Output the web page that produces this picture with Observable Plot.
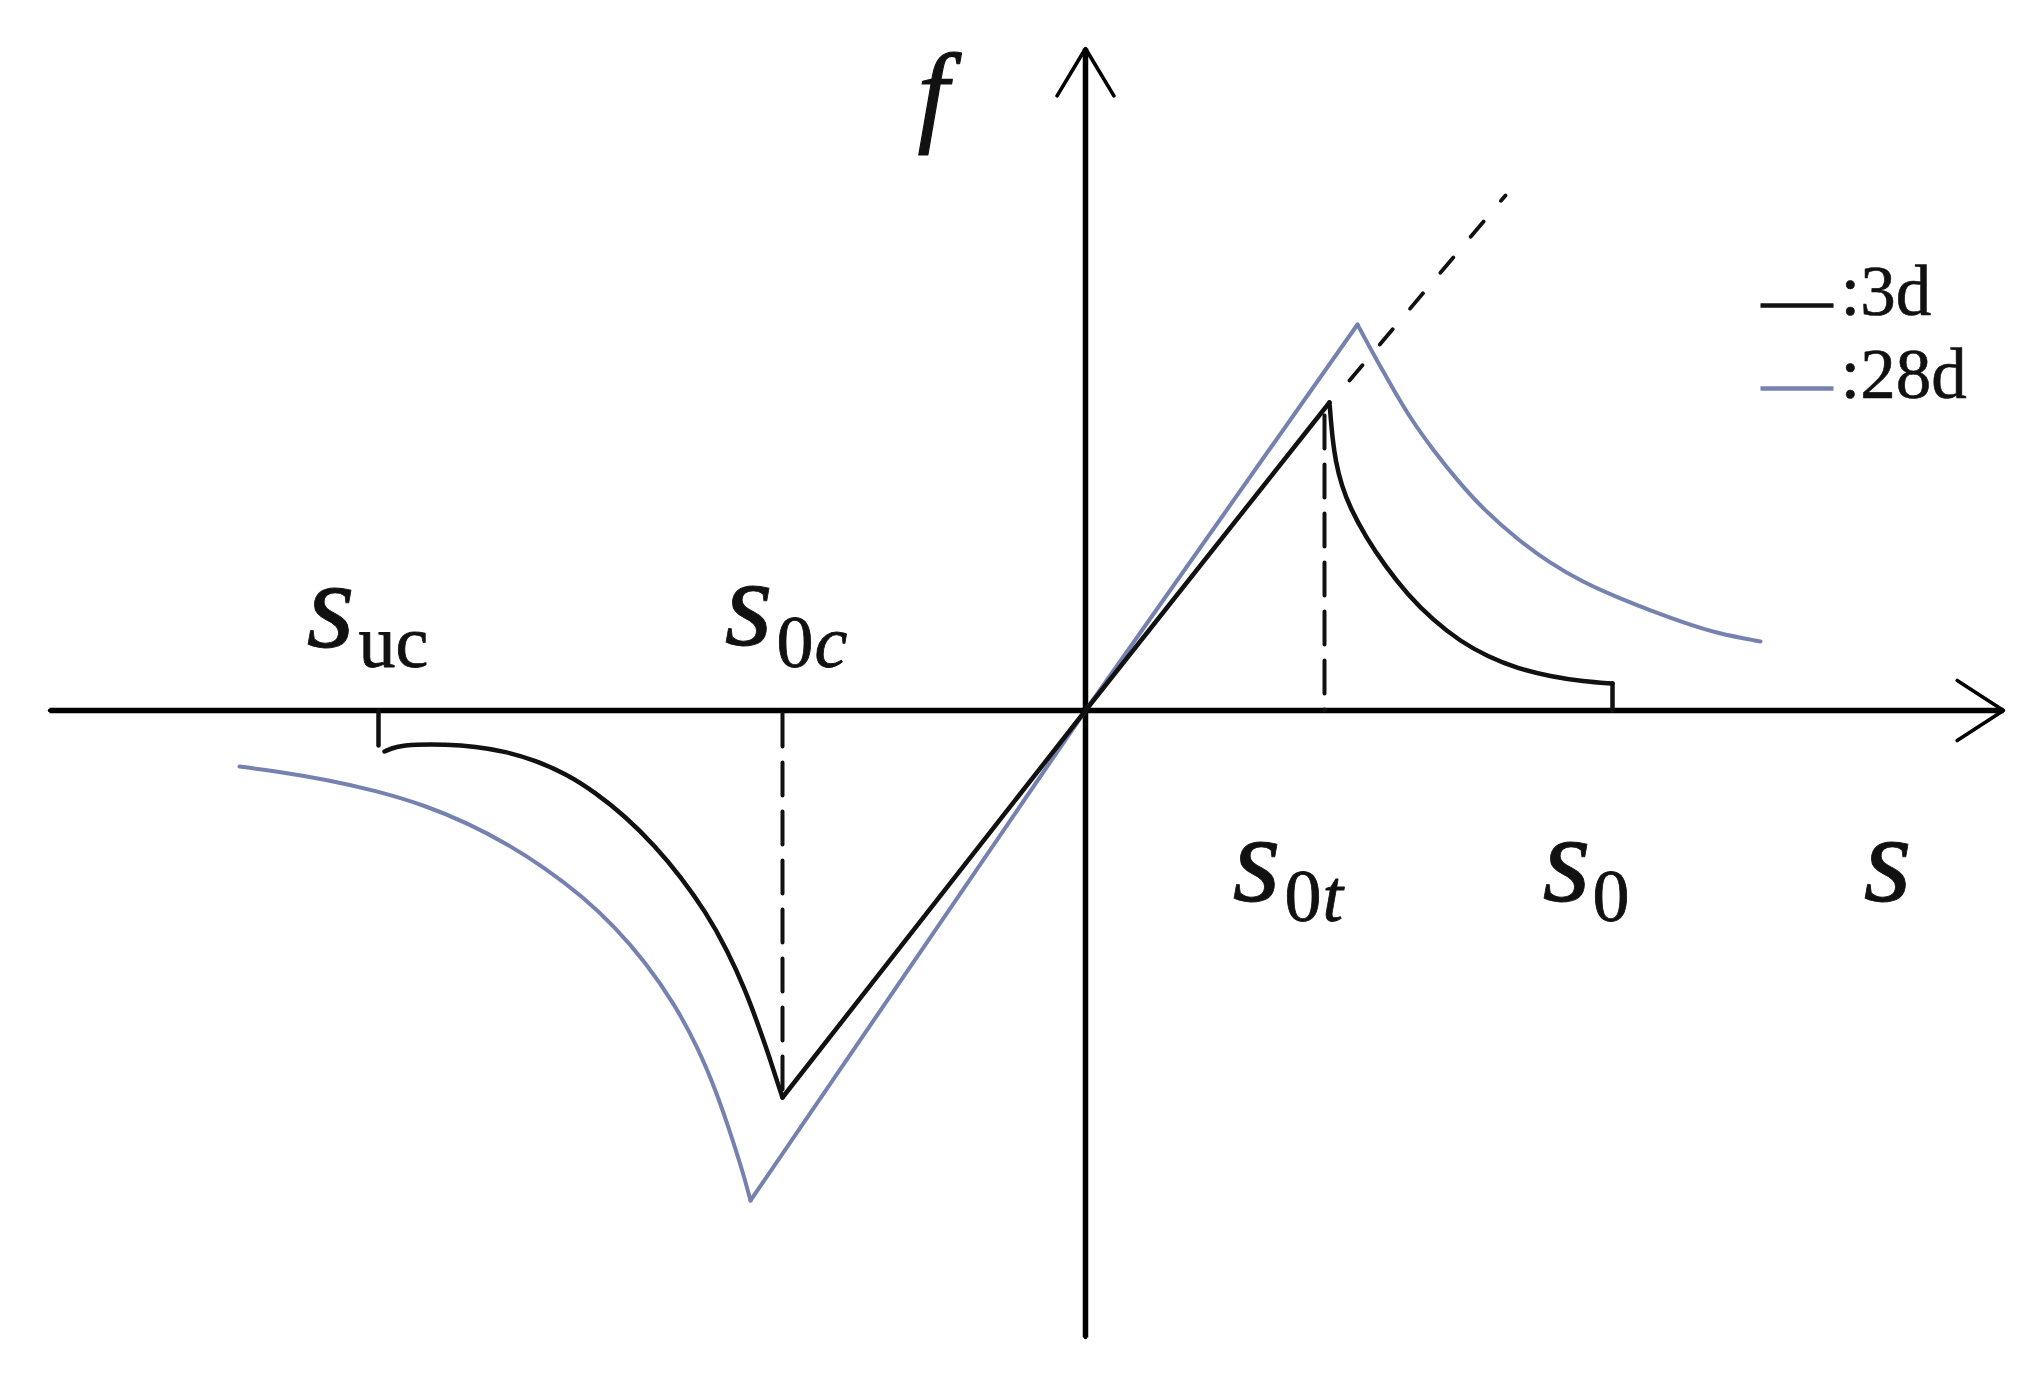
<!DOCTYPE html>
<html><head><meta charset="utf-8">
<script src="https://cdn.jsdelivr.net/npm/d3@7"></script>
<script src="https://cdn.jsdelivr.net/npm/@observablehq/plot@0.6"></script>
<style>html,body{margin:0;padding:0;background:#fff;overflow:hidden}</style>
</head><body><div id="chart"></div>
<script>
// ---- key strains where the curves meet the axis ----
const s_uc = -7.07, s_0c = -3.03, s_0t = 2.39, s_0 = 5.27;

// ---- 3d curve (black) ----
const d3dCompTick = [[s_uc, 0], [s_uc, -0.35]];
const d3dCompSoft = [[-7.01,-0.41],[-6.90,-0.36],[-6.70,-0.34],[-6.40,-0.34],[-6.10,-0.36],[-5.80,-0.41],[-5.50,-0.50],[-5.20,-0.63],[-4.90,-0.82],[-4.60,-1.06],[-4.30,-1.36],[-4.05,-1.66],[-3.80,-2.01],[-3.58,-2.40],[-3.40,-2.80],[-3.26,-3.18],[-3.15,-3.50],[-3.08,-3.72],[-3.03,-3.87]];
const d3dLinear = [[-3.03,-3.87],[0,0],[2.44,3.08]];
const d3dTensSoft = [[2.44,3.08],[2.45,2.95],[2.47,2.72],[2.50,2.50],[2.56,2.25],[2.65,2.02],[2.80,1.74],[3.00,1.44],[3.22,1.16],[3.48,0.90],[3.75,0.69],[4.02,0.54],[4.32,0.42],[4.65,0.34],[4.98,0.29],[5.27,0.27]];
const d3dTensTick = [[s_0, 0.27], [s_0, 0]];

// ---- 28d curve (blue-grey) ----
const d28CompSoft = [[-8.46,-0.56],[-8.08,-0.61],[-7.60,-0.69],[-7.10,-0.80],[-6.60,-0.95],[-6.17,-1.13],[-5.79,-1.33],[-5.41,-1.57],[-5.03,-1.86],[-4.70,-2.17],[-4.40,-2.52],[-4.12,-2.92],[-3.88,-3.36],[-3.68,-3.84],[-3.52,-4.32],[-3.42,-4.64],[-3.35,-4.90]];
const d28Linear = [[-3.35,-4.90],[0,0],[2.72,3.86]];
const d28TensSoft = [[2.72,3.86],[2.80,3.71],[2.92,3.49],[3.08,3.21],[3.25,2.92],[3.48,2.60],[3.72,2.30],[3.98,2.01],[4.32,1.71],[4.65,1.47],[4.98,1.28],[5.32,1.13],[5.65,1.00],[5.98,0.88],[6.32,0.77],[6.75,0.69]];

// ---- dashed guides ----
const guideTension = [[s_0t, 2.95], [s_0t, 0]];
const guideCompression = [[s_0c, -0.03], [s_0c, -3.85]];
const guideExtension = [[2.64, 3.30], [4.20, 5.15]];

// ---- axes extents ----
const xAxisExtent = [-10.36, 9.18];
const yAxisExtent = [-6.27, 6.62];

// ---- labels ----
const strainLabels = [
  {base: "s", sub: "uc", subItalic: "", x: s_uc},
  {base: "s", sub: "0",  subItalic: "c", x: s_0c},
  {base: "s", sub: "0",  subItalic: "t", x: s_0t},
  {base: "s", sub: "0",  subItalic: "", x: s_0}
];
const legendLabels = [":3d", ":28d"];
const seriesColors = ["#111111", "#7582b0"];

// layout (pixel offsets from anchors)
const labelOffsets = [
  {bdx: -72, bdy: -64, sdx: -20, sdy: -44},
  {bdx: -58, bdy: -66, sdx: -6, sdy: -44},
  {bdx: -92, bdy: 190, sdx: -40, sdy: 210},
  {bdx: -70, bdy: 190, sdx: -20, sdy: 210}
];
const digitAdvance = 36;
const legendLayout = {x1: 6.75, x2: 7.48, textX: 7.55, rows: [4.05, 3.22], textDy: 9};

const pts = (a) => a.map(([x, y]) => ({x, y}));
const BLACK = seriesColors[0], BLUE = seriesColors[1];

const lineOpts = (color, w, curve) => ({x: "x", y: "y", stroke: color, strokeWidth: w, curve, strokeLinecap: "round", strokeLinejoin: "miter"});

const baseText = {fontFamily: "Liberation Serif", fill: "#111", textAnchor: "start", lineAnchor: "bottom", stroke: "#111", strokeWidth: 0.8};

const marks = [
  // axes
  Plot.link([{x1: xAxisExtent[0], x2: xAxisExtent[1]}], {x1: "x1", x2: "x2", y1: 0, y2: 0, stroke: "#000", strokeWidth: 5.5}),
  Plot.link([{y1: yAxisExtent[0], y2: yAxisExtent[1]}], {y1: "y1", y2: "y2", x1: 0, x2: 0, stroke: "#000", strokeWidth: 5.5}),
  Plot.arrow([{x1: xAxisExtent[0], x2: xAxisExtent[1]}], {x1: "x1", x2: "x2", y1: 0, y2: 0, stroke: "#000", strokeWidth: 3.6, headLength: 23, headAngle: 66}),
  Plot.arrow([{y1: yAxisExtent[0], y2: yAxisExtent[1]}], {y1: "y1", y2: "y2", x1: 0, x2: 0, stroke: "#000", strokeWidth: 3.6, headLength: 23, headAngle: 62}),

  // dashed guides
  Plot.line(pts(guideTension), {x: "x", y: "y", stroke: BLACK, strokeWidth: 4, strokeDasharray: "33,16"}),
  Plot.line(pts(guideCompression), {x: "x", y: "y", stroke: BLACK, strokeWidth: 4, strokeDasharray: "33,16"}),
  Plot.line(pts(guideExtension), {x: "x", y: "y", stroke: BLACK, strokeWidth: 3.8, strokeDasharray: "20,27"}),

  // 28d
  Plot.line(pts(d28CompSoft), lineOpts(BLUE, 4, "basis")),
  Plot.line(pts(d28Linear), lineOpts(BLUE, 4, "linear")),
  Plot.line(pts(d28TensSoft), lineOpts(BLUE, 4, "basis")),

  // 3d
  Plot.line(pts(d3dCompTick), lineOpts(BLACK, 4.5, "linear")),
  Plot.line(pts(d3dCompSoft), lineOpts(BLACK, 4.5, "basis")),
  Plot.line(pts(d3dLinear), lineOpts(BLACK, 4.5, "linear")),
  Plot.line(pts(d3dTensSoft), lineOpts(BLACK, 4.5, "basis")),
  Plot.line(pts(d3dTensTick), lineOpts(BLACK, 4.5, "linear")),

  // strain labels: base "s", upright subscript, italic subscript letter
  ...strainLabels.map((d, i) => Plot.text([d], {...baseText, x: "x", y: () => 0, text: "base", fontStyle: "italic", fontSize: 124, dx: labelOffsets[i].bdx, dy: labelOffsets[i].bdy})),
  ...strainLabels.map((d, i) => Plot.text([d], {...baseText, x: "x", y: () => 0, text: "sub", fontSize: 74, dx: labelOffsets[i].sdx, dy: labelOffsets[i].sdy})),
  ...strainLabels.filter(d => d.subItalic).map(d => {
    const i = strainLabels.indexOf(d);
    return Plot.text([d], {...baseText, x: "x", y: () => 0, text: "subItalic", fontStyle: "italic", fontSize: 74, dx: labelOffsets[i].sdx + digitAdvance + 2, dy: labelOffsets[i].sdy});
  }),

  // axis labels
  Plot.text(["s"], {...baseText, x: () => xAxisExtent[1], y: () => 0, text: d => d, fontStyle: "italic", fontSize: 124, dx: -140, dy: 190}),
  Plot.text(["f"], {...baseText, x: () => 0, y: () => yAxisExtent[1], text: d => d, fontStyle: "italic", fontSize: 112, dx: -168, dy: 82, strokeWidth: 1.2}),

  // legend
  Plot.link(legendLabels, {x1: () => legendLayout.x1, x2: () => legendLayout.x2, y1: (d, i) => legendLayout.rows[i], y2: (d, i) => legendLayout.rows[i], stroke: (d, i) => seriesColors[i], strokeWidth: 4.5}),
  Plot.text(legendLabels, {...baseText, x: () => legendLayout.textX, y: (d, i) => legendLayout.rows[i], text: d => d, fontSize: 71, dy: legendLayout.textDy, strokeWidth: 0.6})
];

const chart = Plot.plot({
  width: 2042,
  height: 1377,
  margin: 0,
  x: {domain: [-10.85, 9.57], axis: null},
  y: {domain: [-6.67, 7.10], axis: null},
  color: {type: "identity"},
  style: {background: "#fff", overflow: "visible"},
  marks
});
document.getElementById("chart").appendChild(chart);
</script></body></html>
